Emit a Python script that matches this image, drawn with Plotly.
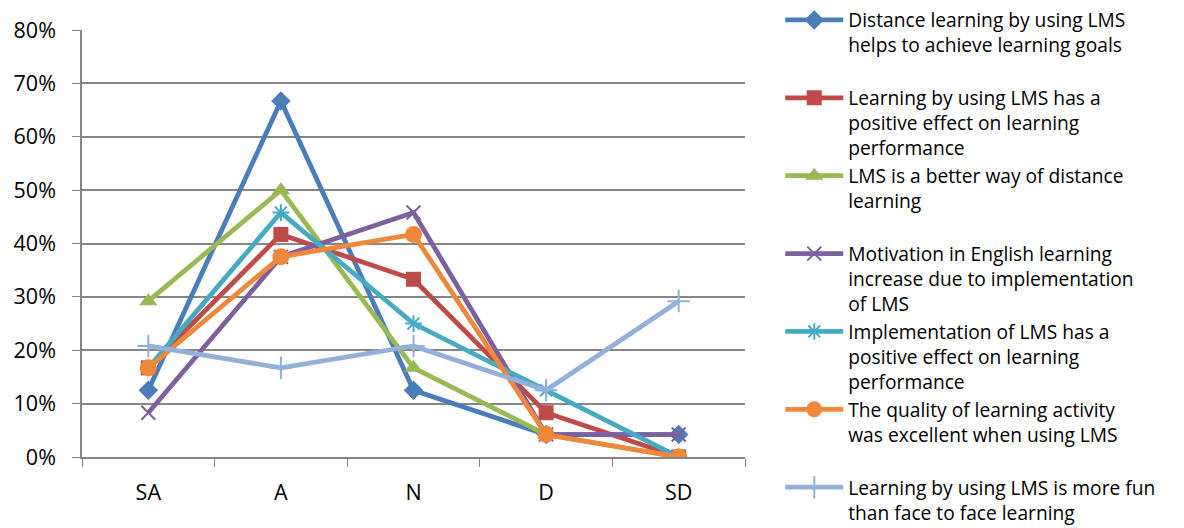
import plotly.graph_objects as go

categories = ["SA", "A", "N", "D", "SD"]

s1_name = "Distance learning by using LMS<br>helps to achieve learning goals<br>&nbsp;"
s2_name = "Learning by using LMS has a<br>positive effect on learning<br>performance"
s3_name = "LMS is a better way of distance<br>learning<br>&nbsp;"
s4_name = "Motivation in English learning<br>increase due to implementation<br>of LMS"
s5_name = "Implementation of LMS has a<br>positive effect on learning<br>performance"
s6_name = "The quality of learning activity<br>was excellent when using LMS<br>&nbsp;"
s7_name = "Learning by using LMS is more fun<br>than face to face learning"

s1 = [0.125, 0.667, 0.125, 0.042, 0.042]
s2 = [0.167, 0.417, 0.333, 0.083, 0.0]
s3 = [0.292, 0.500, 0.167, 0.042, 0.0]
s4 = [0.083, 0.375, 0.458, 0.042, 0.042]
s5 = [0.167, 0.458, 0.250, 0.125, 0.0]
s6 = [0.167, 0.375, 0.417, 0.042, 0.0]
s7 = [0.208, 0.167, 0.208, 0.125, 0.292]

y_ticks = [0, 0.1, 0.2, 0.3, 0.4, 0.5, 0.6, 0.7, 0.8]
y_tick_text = ["0%", "10%", "20%", "30%", "40%", "50%", "60%", "70%", "80%"]

series = [
    (s1_name, s1, "#4A7EBB", dict(symbol="diamond", size=15)),
    (s2_name, s2, "#BE4B48", dict(symbol="square", size=15)),
    (s3_name, s3, "#98B954", dict(symbol="triangle-up", size=16)),
    (s4_name, s4, "#7D60A0", dict(symbol="x-thin-open", size=14, line=dict(width=2))),
    (s5_name, s5, "#46AAC5", dict(symbol="asterisk-open", size=14, line=dict(width=2))),
    (s6_name, s6, "#F0883C", dict(symbol="circle", size=17)),
    (s7_name, s7, "#93B0D8", dict(symbol="cross-thin-open", size=16, line=dict(width=2))),
]

fig = go.Figure()
for name, vals, color, mk in series:
    marker = dict(color=color, **mk)
    if "line" in marker:
        marker["line"]["color"] = color
    fig.add_trace(go.Scatter(
        x=categories, y=vals, name=name, mode="lines+markers",
        line=dict(color=color, width=4.8), marker=marker,
    ))

font_family = "Open Sans, Liberation Sans, Arial, sans-serif"

fig.update_layout(
    width=1184, height=528,
    margin=dict(l=82, r=439, t=30, b=71, autoexpand=False),
    paper_bgcolor="white", plot_bgcolor="white",
    font=dict(family=font_family, size=21, color="#000000"),
    showlegend=True,
    legend=dict(
        xref="container", yref="paper",
        x=0.659, y=1.068, xanchor="left", yanchor="top",
        font=dict(size=19.2, family=font_family, color="#000000"),
        itemwidth=58, valign="top", traceorder="normal",
        bgcolor="rgba(0,0,0,0)", maxheight=700,
    ),
    xaxis=dict(
        type="category", range=[-0.5, 4.5],
        showline=True, linecolor="#868686", linewidth=1.5,
        ticks="outside", tickson="boundaries", ticklen=8, tickcolor="#868686",
        showgrid=False, tickfont=dict(size=21.5), ticklabelstandoff=15,
    ),
    yaxis=dict(
        range=[0, 0.8], tickvals=y_ticks, ticktext=y_tick_text,
        showline=True, linecolor="#868686", linewidth=1.5,
        ticks="outside", ticklen=8, tickcolor="#868686",
        showgrid=True, gridcolor="#868686", gridwidth=1.5,
        zeroline=False, tickfont=dict(size=21.5), ticklabelstandoff=12,
    ),
)

fig.write_html("out.html", config={"displayModeBar": False})

# remove the default page margin so the figure sits at the window's top-left corner
with open("out.html", "r", encoding="utf-8") as f:
    html = f.read()
html = html.replace("<head>", "<head><style>html,body{margin:0;padding:0;overflow:hidden;}</style>", 1)
with open("out.html", "w", encoding="utf-8") as f:
    f.write(html)
